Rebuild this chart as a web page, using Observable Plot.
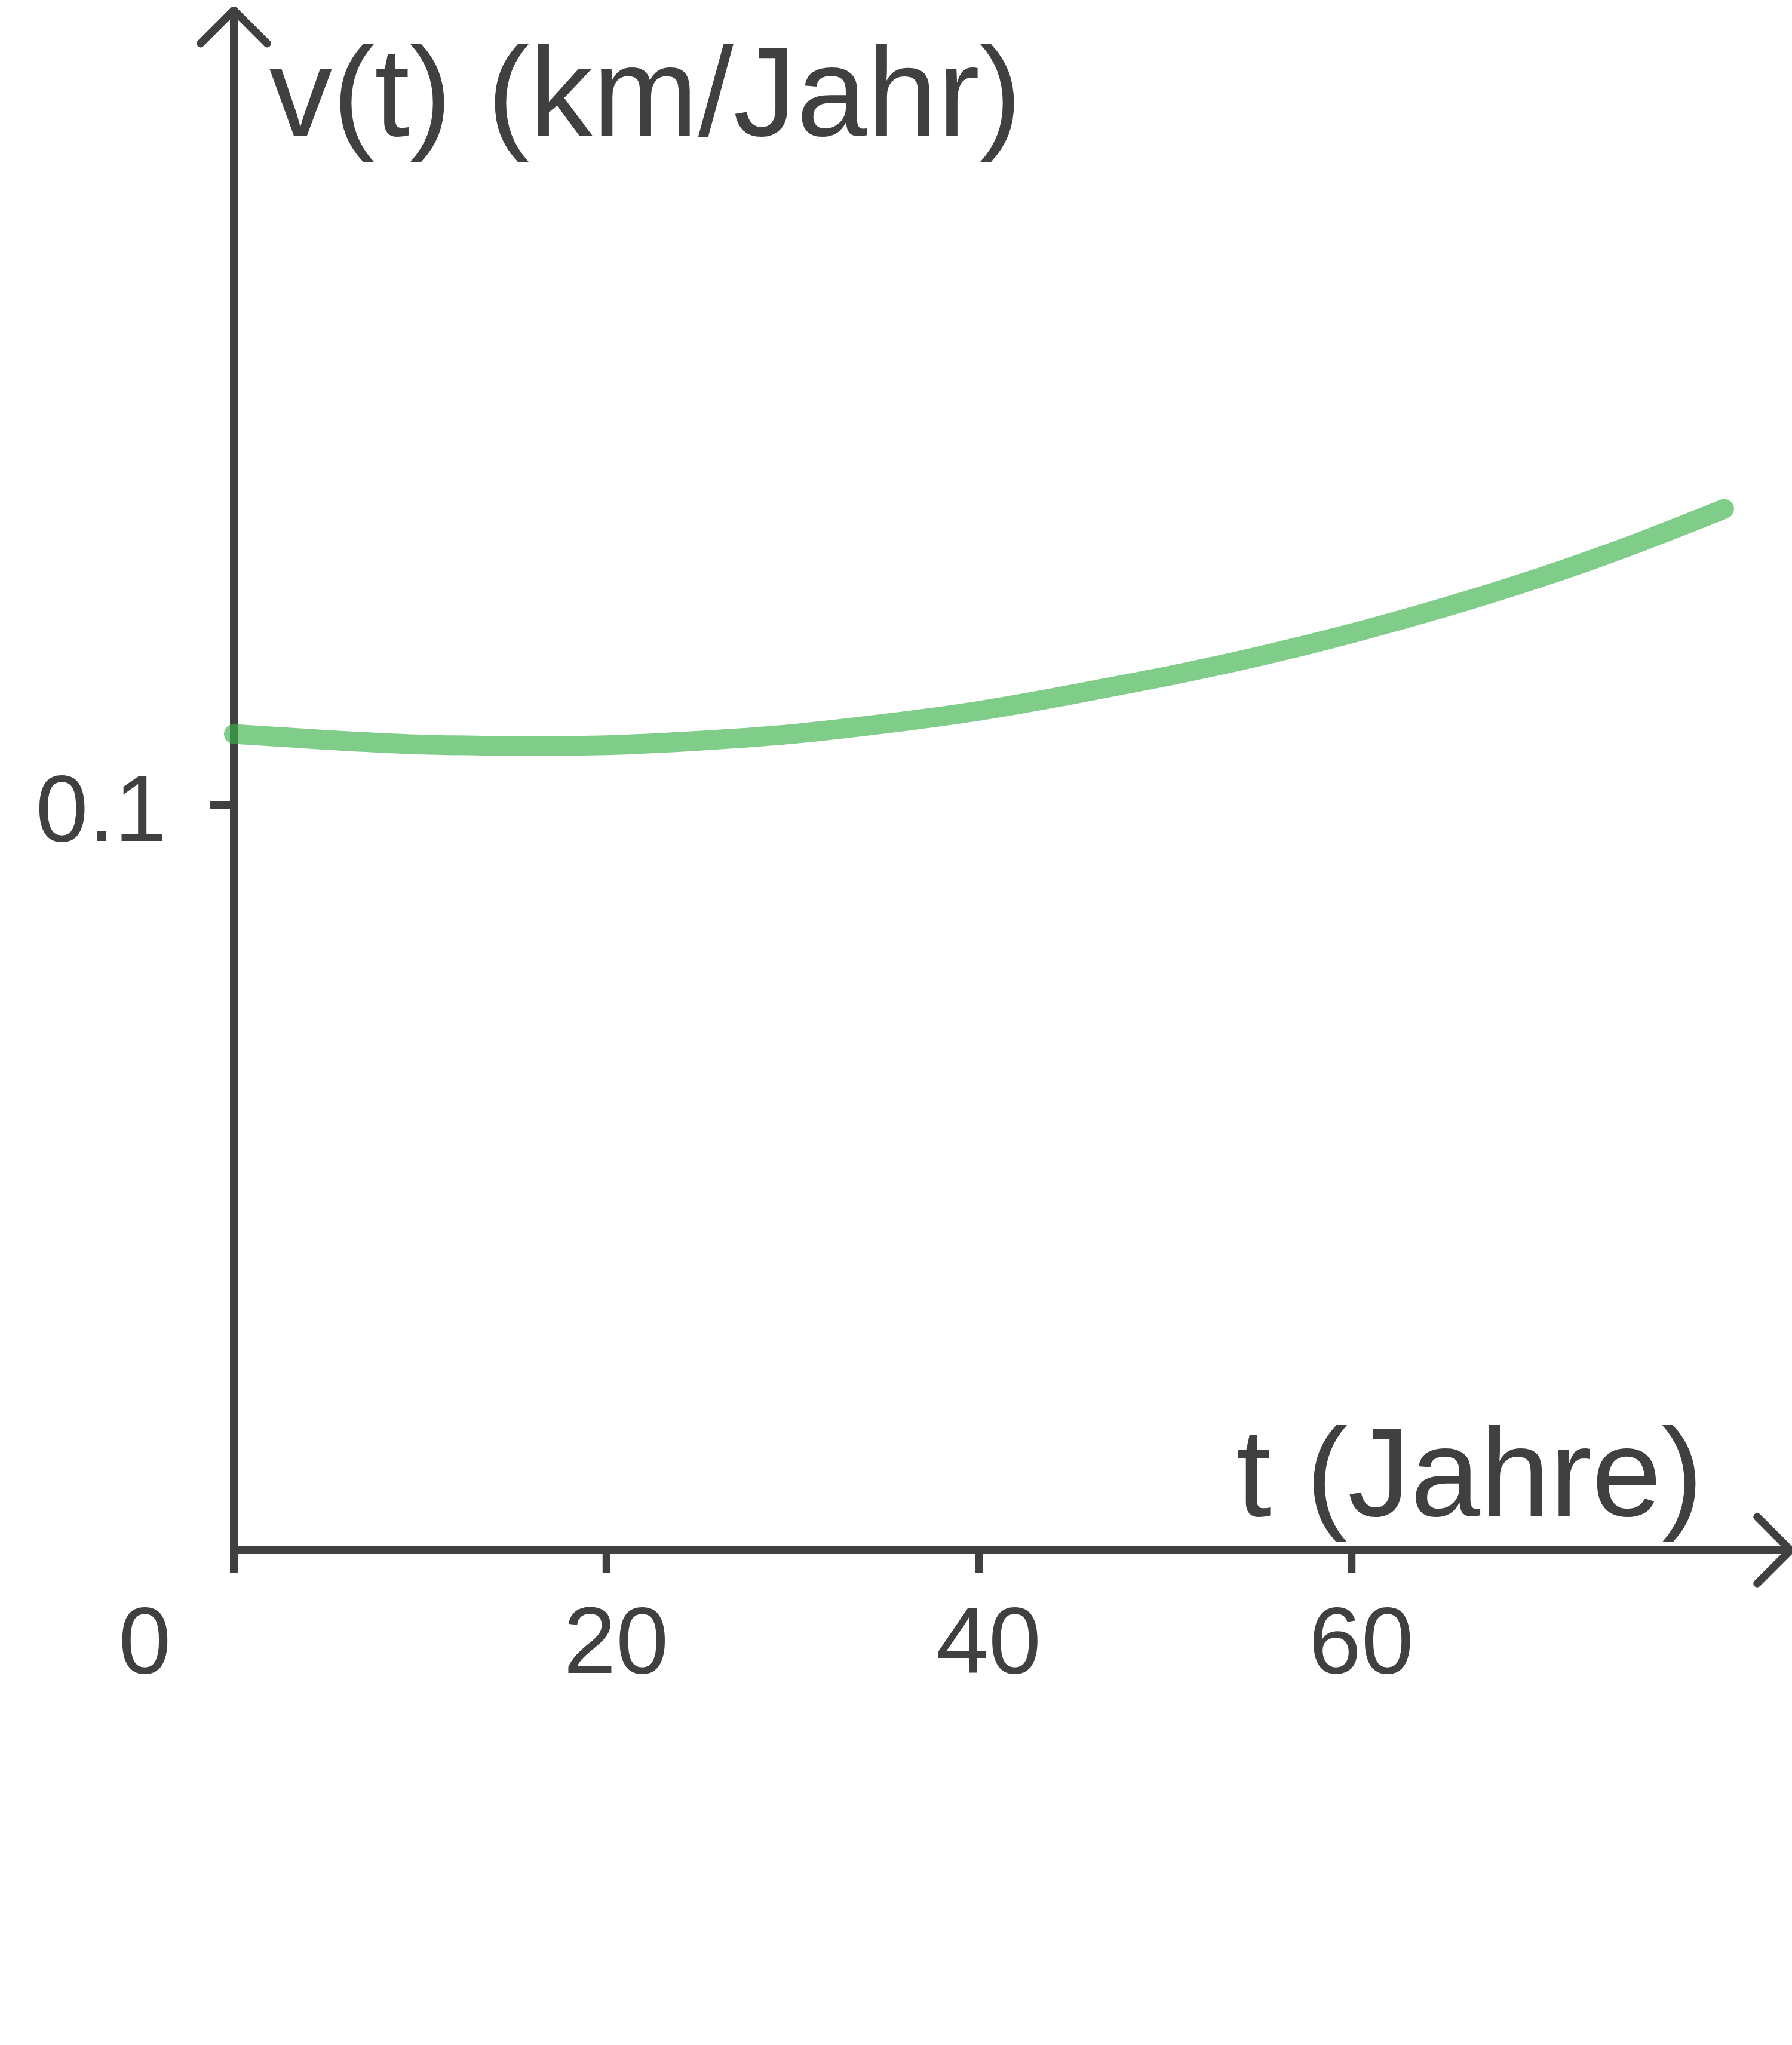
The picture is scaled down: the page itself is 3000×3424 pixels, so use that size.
<!DOCTYPE html>
<html>
<head>
<meta charset="utf-8">
<script src="https://cdn.jsdelivr.net/npm/d3@7"></script>
<script src="https://cdn.jsdelivr.net/npm/@observablehq/plot@0.6"></script>
<style>
  html, body { margin: 0; padding: 0; background: #ffffff; }
  #chart svg { display: block; }
</style>
</head>
<body>
<div id="chart"></div>
<script>
// Time in years
const years  = [0, 5, 10, 15, 20, 25, 30, 35, 40, 45, 50, 55, 60, 65, 70, 75, 80];
// Speed v(t) in km/year
const speeds = [0.1095, 0.1087, 0.1081, 0.1079, 0.1080, 0.1086, 0.1095, 0.1109, 0.1126,
                0.1148, 0.1172, 0.1199, 0.1230, 0.1265, 0.1304, 0.1348, 0.1397];
const xTicks = [0, 20, 40, 60];
const yTicks = [0.1];
const xLabel = "t (Jahre)";
const yLabel = "v(t) (km/Jahr)";
const xAxisEnd = 83.56;   // where the x-axis arrow ends
const yAxisEnd = 0.2066;  // where the y-axis arrow ends

const data = years.map((t, i) => ({t, v: speeds[i]}));
const axes = [
  {x1: 0, y1: 0, x2: xAxisEnd, y2: 0},
  {x1: 0, y1: 0, x2: 0, y2: yAxisEnd}
];
const ink = "#404040";
const font = "'Liberation Sans', Arial, Helvetica, sans-serif";

const chart = Plot.plot({
  width: 3000,
  height: 3424,
  marginLeft: 391,
  marginRight: 114,
  marginTop: 99,
  marginBottom: 829,
  style: {fontFamily: font, background: "#ffffff", overflow: "visible"},
  x: {domain: [0, 80], axis: null},
  y: {domain: [0, 0.2], axis: null},
  marks: [
    Plot.arrow(axes, {x1: "x1", y1: "y1", x2: "x2", y2: "y2", stroke: ink, strokeWidth: 13, headLength: 9.1, headAngle: 90}),
    Plot.axisX({ticks: xTicks, tickSize: 39, stroke: ink, strokeWidth: 13, fill: "none"}),
    Plot.axisY({ticks: yTicks, tickSize: 39, stroke: ink, strokeWidth: 13, fill: "none"}),
    Plot.line(data, {x: "t", y: "v", stroke: "#3cb04a", strokeOpacity: 0.65, strokeWidth: 33, strokeLinecap: "round", strokeLinejoin: "round", curve: "natural"}),
    Plot.text(xTicks.filter(d => d !== 0), {x: d => d, frameAnchor: "bottom", text: d => String(d), dx: 16, dy: 93, lineAnchor: "top", fontSize: 158, fill: ink}),
    Plot.text(xTicks.filter(d => d === 0), {x: d => d, frameAnchor: "bottom", text: d => String(d), dx: -149, dy: 93, lineAnchor: "top", fontSize: 158, fill: ink}),
    Plot.text(yTicks, {y: d => d, frameAnchor: "left", text: d => String(d), textAnchor: "end", dx: -112, dy: 10, lineAnchor: "middle", fontSize: 158, fill: ink}),
    Plot.text([yLabel], {frameAnchor: "top-left", text: d => d, textAnchor: "start", lineAnchor: "bottom", dx: 59, dy: 127, fontSize: 212, fill: ink}),
    Plot.text([xLabel], {frameAnchor: "bottom-right", text: d => d, textAnchor: "end", lineAnchor: "bottom", dx: -35, dy: -58, fontSize: 210, fill: ink})
  ]
});
document.getElementById("chart").append(chart);
</script>
</body>
</html>
